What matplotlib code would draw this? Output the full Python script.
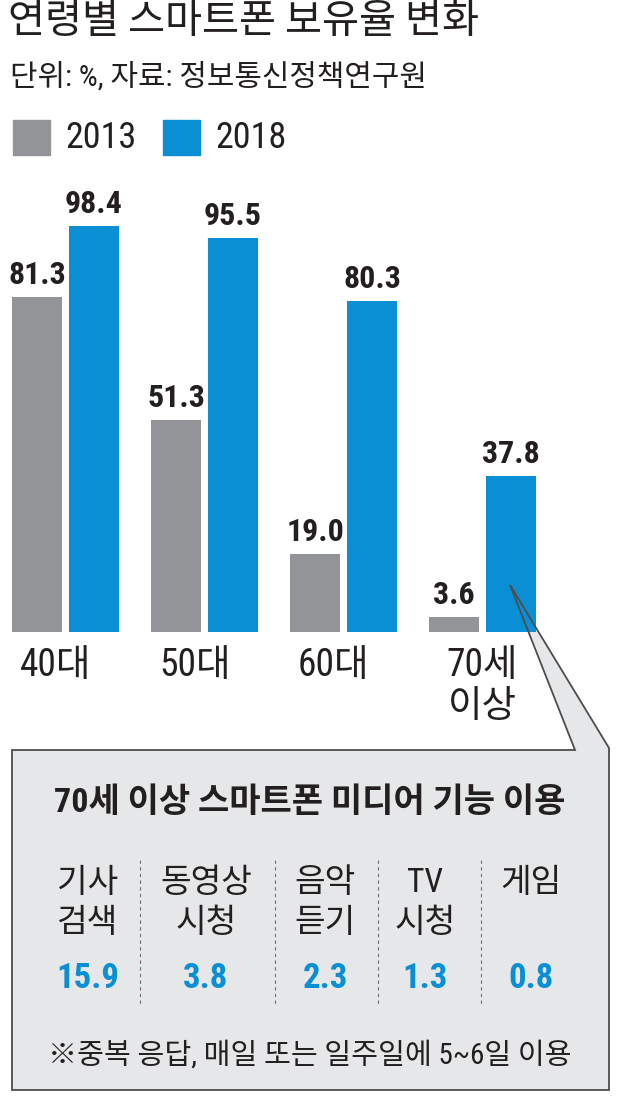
import matplotlib
matplotlib.use("Agg")
import matplotlib.pyplot as plt
from matplotlib import font_manager
from matplotlib.patches import Polygon
import numpy as np

# --- data ---
ages = ["40대", "50대", "60대", "70세\n이상"]
years = ["2013", "2018"]
own_2013 = [81.3, 51.3, 19.0, 3.6]
own_2018 = [98.4, 95.5, 80.3, 37.8]

media_labels = ["기사\n검색", "동영상\n시청", "음악\n듣기", "TV\n시청", "게임\n"]
media_values = [15.9, 3.8, 2.3, 1.3, 0.8]

title = "연령별 스마트폰 보유율 변화"
subtitle = "단위: %, 자료: 정보통신정책연구원"
box_title = "70세 이상 스마트폰 미디어 기능 이용"
footnote = "※중복 응답, 매일 또는 일주일에 5~6일 이용"

GRAY = "#939498"
BLUE = "#0a8fd4"
TEXT = "#231f20"
BOX = "#e6e7e8"

# --- fonts ---
installed = {f.name for f in font_manager.fontManager.ttflist}
narrow = "Noto Sans CJK KR"
for cand in ["Liberation Sans Narrow", "Roboto Condensed", "Liberation Sans"]:
    if cand in installed:
        narrow = cand
        break
KR = ["Noto Sans CJK KR", "DejaVu Sans"]
NUM = [narrow, "Noto Sans CJK KR", "DejaVu Sans"]
plt.rcParams["font.family"] = KR

W, H = 620, 1100
fig = plt.figure(figsize=(W / 100, H / 100), dpi=100)

# background layer (callout fill), in pixel coords
bg = fig.add_axes([0, 0, 1, 1])
bg.set_xlim(0, W)
bg.set_ylim(H, 0)
bg.axis("off")

callout = [(12, 750), (575, 750), (510, 585), (609, 748), (609, 1090), (12, 1090)]
bg.add_patch(Polygon(callout, closed=True, facecolor=BOX, edgecolor="none"))

# --- bar chart ---
base_px, top_px = 632, 150
ymax = own_2018[0] * (base_px - top_px) / (base_px - 226)
ax = fig.add_axes([0, 1 - base_px / H, 1, (base_px - top_px) / H])
ax.patch.set_alpha(0)
x = np.arange(len(ages))
bw = 0.36
off = 0.205
b1 = ax.bar(x - off, own_2013, bw, color=GRAY, label=years[0])
b2 = ax.bar(x + off, own_2018, bw, color=BLUE, label=years[1])
ax.set_xlim(-0.471, 3.989)
ax.set_ylim(0, ymax)
ax.axis("off")

for bars, vals in [(b1, own_2013), (b2, own_2018)]:
    for r, v in zip(bars, vals):
        ax.annotate(f"{v:.1f}", (r.get_x() + r.get_width() / 2, v),
                    xytext=(0, 5), textcoords="offset points",
                    ha="center", va="bottom", fontsize=23, fontweight="bold",
                    family=NUM, color=TEXT)

for i, lab in enumerate(ages):
    if "\n" in lab:
        ax.annotate(lab, (x[i], 0), xytext=(0, -39), textcoords="offset points",
                    ha="center", va="center", fontsize=27, family=NUM,
                    color=TEXT, linespacing=1.15)
    else:
        ax.annotate(lab, (x[i] - 0.07, 0), xytext=(0, -24), textcoords="offset points",
                    ha="center", va="center", fontsize=27, family=NUM, color=TEXT)

# --- top layer: titles, legend, callout outline & contents ---
ov = fig.add_axes([0, 0, 1, 1])
ov.patch.set_alpha(0)
ov.set_xlim(0, W)
ov.set_ylim(H, 0)
ov.axis("off")

ov.text(8, 22, title, fontsize=29, color=TEXT, va="center", ha="left")
ov.text(10, 77, subtitle, fontsize=21.5, color=TEXT, va="center", ha="left",
        family=NUM)

# legend
for (lx, col, yr) in [(13, GRAY, years[0]), (163, BLUE, years[1])]:
    ov.add_patch(plt.Rectangle((lx, 120), 37, 35, color=col))
    ov.text(lx + 52, 138, yr, fontsize=26, family=NUM, color=TEXT,
            va="center", ha="left")

ov.add_patch(Polygon(callout, closed=True, facecolor="none",
                     edgecolor="#4d4d4f", linewidth=1.3))

ov.text(310, 803, box_title, fontsize=24.5, fontweight="bold", color=TEXT,
        ha="center", va="center", family=NUM)

col_x = [88, 206, 325, 425, 531]
for cx, lab, val in zip(col_x, media_labels, media_values):
    ov.text(cx, 903, lab, fontsize=24, color=TEXT, ha="center", va="center",
            linespacing=1.32, family=NUM)
    ov.text(cx, 978, f"{val:.1f}", fontsize=25, fontweight="bold", color=BLUE,
            ha="center", va="center", family=NUM)

for sx in [140, 275, 378, 481]:
    ov.plot([sx, sx], [860, 1004], color="#6d6e71", linewidth=0.8,
            linestyle=(0, (3, 3)))

ov.text(310, 1055, footnote, fontsize=21, color=TEXT, ha="center", va="center",
        family=NUM)

fig.savefig("out.png", dpi=100)
